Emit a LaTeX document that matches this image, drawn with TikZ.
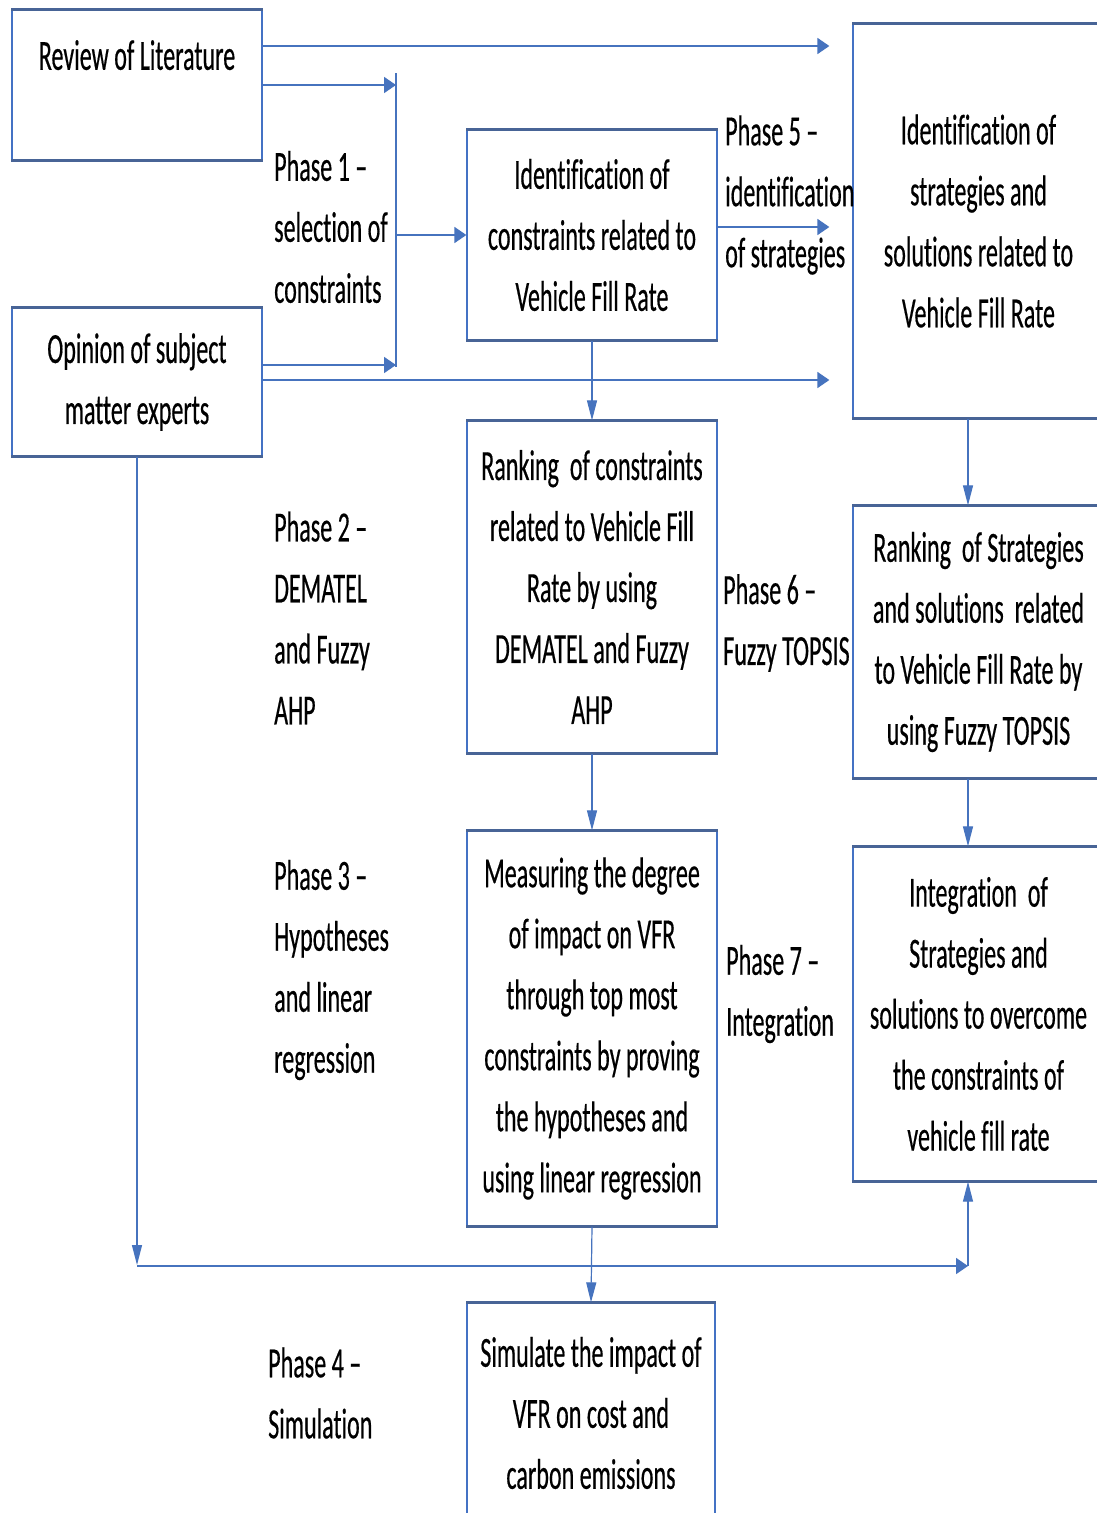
\documentclass[tikz,border=0pt]{standalone}
\usepackage{fontspec}
\setmainfont{Carlito}[FakeStretch=0.56, Ligatures=NoCommon, FakeBold=0.4]
\usetikzlibrary{arrows.meta}
\definecolor{sideblue}{RGB}{68,114,196}
\definecolor{edgeblue}{RGB}{72,100,150}
\definecolor{lineblue}{RGB}{70,115,190}
\begin{document}
\begin{tikzpicture}[x=1pt,y=-1pt,
  txt/.style={font=\fontsize{43}{61}\selectfont},
  box/.style={txt, rectangle, draw=sideblue, line width=1.3pt, inner sep=0pt, align=center},
  hedge/.style={draw=edgeblue, line width=3pt},
  lbl/.style={txt, anchor=west, align=left, inner sep=0pt},
  harr/.style={draw=lineblue, line width=1.8pt, -{Triangle[length=12pt,width=16pt]}},
  varr/.style={draw=lineblue, line width=1.2pt, -{Triangle[length=20pt,width=10pt]}},
  hline/.style={draw=lineblue, line width=1.8pt},
  vline/.style={draw=lineblue, line width=1.2pt}]
\fill[white] (0,0) rectangle (1097,1513);
\path[use as bounding box] (0,0) rectangle (1097,1513);

% boxes
\node[box, minimum width=250pt, minimum height=150pt, text depth=60pt] (rl) at (137,85) {Review of Literature};
\node[box, minimum width=250pt, minimum height=148pt] (op) at (137,382) {Opinion of subject\\matter experts};
\node[box, minimum width=250pt, minimum height=210pt] (c1) at (592,235) {Identification of\\constraints related to\\Vehicle Fill Rate};
\node[box, minimum width=250pt, minimum height=332pt] (r1) at (592,587) {Ranking~ of constraints\\related to Vehicle Fill\\Rate by using\\DEMATEL and Fuzzy\\AHP};
\node[box, minimum width=250pt, minimum height=395pt] (m) at (592,1028.5) {Measuring the degree\\of impact on VFR\\through top most\\constraints by proving\\the hypotheses and\\using linear regression};
\node[box, minimum width=248pt, minimum height=220pt] (sim) at (591,1413) {Simulate the impact of\\VFR on cost and\\carbon emissions};
\node[box, minimum width=251pt, minimum height=394pt] (s1) at (978.5,221) {Identification of\\strategies and\\solutions related to\\Vehicle Fill Rate};
\node[box, minimum width=251pt, minimum height=272pt] (s2) at (978.5,642) {Ranking~ of Strategies\\and solutions~ related\\to Vehicle Fill Rate by\\using Fuzzy TOPSIS};
\node[box, minimum width=251pt, minimum height=334pt] (ig) at (978.5,1014) {Integration~ of\\Strategies and\\solutions to overcome\\the constraints of\\vehicle fill rate};

\foreach \n in {rl,op,c1,r1,m,sim,s1,s2,ig}{
  \draw[hedge] (\n.north west) -- (\n.north east);
  \draw[hedge] (\n.south west) -- (\n.south east);
}

% phase labels
\node[lbl] (p1) at (274,227) {Phase 1 –\\selection of\\constraints};
\node[lbl] (p5) at (725,195) {Phase 5 –\\identification\\of strategies};
\node[lbl] (p2) at (274,618) {Phase 2 –\\DEMATEL\\and Fuzzy\\AHP};
\node[lbl] (p6) at (723,623) {Phase 6 –\\Fuzzy TOPSIS};
\node[lbl] (p3) at (274,970) {Phase 3 –\\Hypotheses\\and linear\\regression};
\node[lbl] (p7) at (726,994) {Phase 7 –\\Integration};
\node[lbl] (p4) at (268,1393) {Phase 4 –\\Simulation};

% phase 1 collector bar
\coordinate (bt) at (396,73);
\coordinate (bb) at (396,367);
\coordinate (bm) at (396,235);
\coordinate (j2) at (396,365);
\draw[vline] (bt) -- (bb);
\draw[harr] (rl.east) -- (rl.east -| bt);
\draw[harr] (op.east |- j2) -- (j2);
\draw[harr] (bm) -- (c1.west);

% arrows to strategies box
\draw[harr, shorten >=23pt] (rl.east |- 0,46) -- (s1.west |- 0,46);
\draw[harr, shorten >=23pt] (op.east |- 0,380) -- (s1.west |- 0,380);
\draw[harr, shorten >=23pt] (c1.east |- 0,227) -- (s1.west |- 0,227);

% vertical flow
\draw[varr] (c1.south) -- (r1.north);
\draw[varr] (r1.south) -- (m.north);
\draw[varr] (m.south) -- (sim.north);
\draw[varr] ([xshift=-10.5pt]s1.south) -- ([xshift=-10.5pt]s2.north);
\draw[varr] ([xshift=-10.5pt]s2.south) -- ([xshift=-10.5pt]ig.north);

% bottom route
\coordinate (hl) at (137,1266);
\coordinate (hr) at (968,1266);
\draw[varr] (op.south) -- (op.south |- 0,1265);
\draw[harr] (hl) -- (hr);
\draw[varr] (hr) -- (hr |- ig.south);
\end{tikzpicture}
\end{document}
